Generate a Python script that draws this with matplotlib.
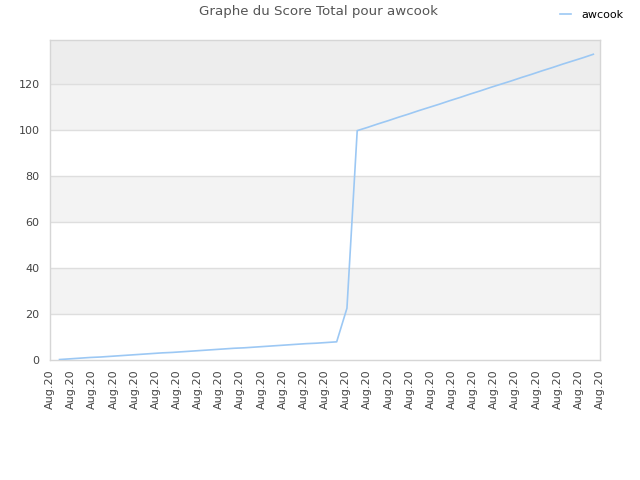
import matplotlib
matplotlib.use("Agg")
import matplotlib.pyplot as plt
import numpy as np

series_name = "awcook"
title = "Graphe du Score Total pour awcook"
scores = [0.2, 0.5, 0.8, 1.1, 1.3, 1.6, 1.9, 2.2, 2.5, 2.8, 3.1, 3.3, 3.6, 3.9,
          4.2, 4.5, 4.8, 5.1, 5.3, 5.6, 5.9, 6.2, 6.5, 6.8, 7.1, 7.3, 7.6, 7.9,
          22.5, 99.7,
          101.1, 102.6, 104.0, 105.5, 106.9, 108.4, 109.8, 111.2, 112.7, 114.1,
          115.6, 117.0, 118.5, 119.9, 121.3, 122.8, 124.2, 125.7, 127.1, 128.6,
          130.0, 131.4, 132.9]
x_idx = list(range(len(scores)))
tick_label = "Aug.20"
n_ticks = 27
y_ticks = [0, 20, 40, 60, 80, 100, 120]

fig = plt.figure(figsize=(6.4, 4.8), dpi=100)
ax = fig.add_axes([50/640, 120/480, 550/640, 320/480])

xmin, xmax = -0.925, 52.65
ymin, ymax = 0, 139.1

# background bands
band_colors = ['#ffffff', '#f3f3f3', '#ffffff', '#f3f3f3', '#ffffff', '#f3f3f3', '#ededed']
edges = y_ticks + [ymax]
for i, c in enumerate(band_colors):
    ax.axhspan(edges[i], edges[i+1], color=c, zorder=0, lw=0)
for y in y_ticks[1:]:
    ax.axhline(y, color='#dedede', lw=1, zorder=1)

ax.plot(x_idx, scores, color='#9cc8f4', lw=1.2, zorder=3, label=series_name)

ax.set_xlim(xmin, xmax)
ax.set_ylim(ymin, ymax)
ticks = np.linspace(xmin, xmax, n_ticks)
ax.set_xticks(ticks)
ax.set_xticklabels([tick_label]*n_ticks, rotation=90, fontsize=8, color='#444444')
ax.set_yticks(y_ticks)
ax.set_yticklabels([str(v) for v in y_ticks], fontsize=8, color='#444444')
ax.tick_params(axis='y', length=0, pad=7.5)
ax.tick_params(axis='x', length=0, pad=7)
for s in ax.spines.values():
    s.set_color('#d6d6d6')
    s.set_linewidth(1)

fig.text(0.497, 0.975, title, ha='center', va='center', fontsize=9.6, color='#555555')
fig.legend(loc='upper right', bbox_to_anchor=(0.99, 1.0), frameon=False, fontsize=8,
           handlelength=1.0, handletextpad=0.9)

fig.savefig("out.png", dpi=100)
